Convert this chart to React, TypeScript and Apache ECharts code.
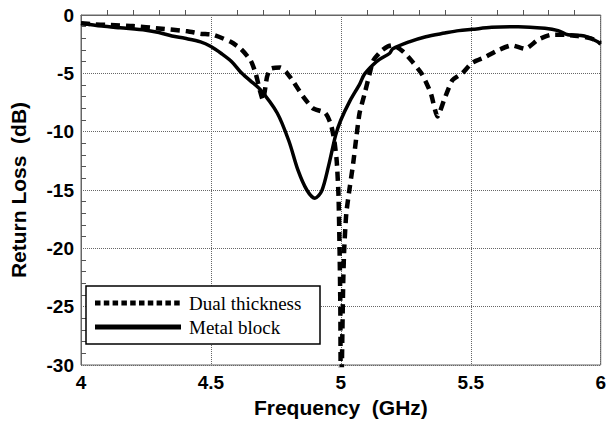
import React, { useEffect, useRef } from "react";
import * as echarts from "echarts";

const xTicks = [4, 4.5, 5, 5.5, 6];
const yTicks = [0, -5, -10, -15, -20, -25, -30];

const seriesNames = ["Dual thickness", "Metal block"];

const dualThickness: [number, number][] = [
  [4.0, -0.7], [4.05, -0.8], [4.1, -0.85], [4.2, -0.95], [4.3, -1.15], [4.41, -1.4],
  [4.46, -1.6], [4.51, -1.7], [4.576, -2.3], [4.615, -2.9], [4.653, -3.9], [4.672, -5.0],
  [4.69, -6.6], [4.70, -7.3], [4.716, -5.3], [4.73, -4.6], [4.767, -4.5], [4.79, -4.9],
  [4.817, -5.7], [4.855, -7.0], [4.893, -8.0], [4.94, -8.4], [4.962, -9.4], [4.975, -10.8],
  [4.984, -12.5], [4.991, -15.5], [4.995, -20], [4.998, -25], [4.999, -30], [5.001, -33],
  [5.003, -33], [5.004, -30], [5.006, -27], [5.009, -23], [5.013, -20], [5.021, -17],
  [5.034, -14.8], [5.047, -12.8], [5.06, -10.4], [5.072, -8.4], [5.092, -6.7], [5.111, -5.0],
  [5.125, -3.9], [5.155, -3.1], [5.18, -2.7], [5.2, -2.6], [5.238, -3.1], [5.275, -4.0],
  [5.313, -5.1], [5.346, -6.7], [5.372, -8.7], [5.397, -7.3], [5.429, -5.6], [5.467, -5.0],
  [5.505, -4.1], [5.556, -3.6], [5.607, -3.0], [5.658, -2.6], [5.709, -2.9], [5.76, -2.1],
  [5.81, -1.7], [5.861, -1.7], [5.912, -1.8], [5.962, -2.0], [6.0, -2.4],
];

const metalBlock: [number, number][] = [
  [4.0, -0.7], [4.08, -0.95], [4.15, -1.1], [4.25, -1.3], [4.3, -1.5], [4.35, -1.8],
  [4.4, -2.0], [4.46, -2.3], [4.5, -2.7], [4.54, -3.3], [4.58, -4.0], [4.615, -4.9],
  [4.65, -5.6], [4.69, -6.4], [4.755, -8.4], [4.8, -10.8], [4.835, -13.3], [4.869, -15.0],
  [4.9, -15.7], [4.926, -15.1], [4.952, -13.0], [4.98, -10.3], [5.0, -9.0], [5.034, -7.4],
  [5.073, -5.9], [5.09, -5.1], [5.122, -4.3], [5.149, -3.8], [5.187, -3.3], [5.2, -2.9],
  [5.263, -2.3], [5.327, -1.86], [5.4, -1.55], [5.454, -1.34], [5.505, -1.23], [5.58, -1.06],
  [5.683, -1.0], [5.785, -1.14], [5.836, -1.34], [5.874, -1.7], [5.937, -1.8], [5.989, -2.3],
  [6.0, -2.5],
];

export default function App() {
  const ref = useRef<HTMLDivElement>(null);

  useEffect(() => {
    if (!ref.current) return;
    const chart = echarts.init(ref.current, undefined, { renderer: "svg" });
    const tickFont = {
      fontFamily: "'Liberation Sans', Arial, sans-serif",
      fontWeight: "bold" as const,
      fontSize: 19,
      color: "#000",
    };
    chart.setOption({
      animation: false,
      backgroundColor: "#fff",
      grid: {
        left: 79,
        right: 6,
        top: 15,
        bottom: 58,
        show: true,
        borderColor: "#666",
        borderWidth: 1,
        backgroundColor: "transparent",
      },
      xAxis: {
        type: "value",
        min: xTicks[0],
        max: xTicks[xTicks.length - 1],
        interval: 0.5,
        name: "Frequency  (GHz)",
        nameLocation: "middle",
        nameGap: 30,
        nameTextStyle: { ...tickFont, fontSize: 21 },
        axisLine: { show: true, lineStyle: { color: "#666", width: 1 } },
        axisTick: { show: false },
        minorTick: { show: true, splitNumber: 5, length: -5, lineStyle: { color: "#555", width: 1 } },
        splitLine: { show: true, lineStyle: { color: "#666", type: [1, 1], width: 1 } },
        axisLabel: {
          ...tickFont,
          margin: 8,
          formatter: (v: number) => String(v),
        },
      },
      yAxis: {
        type: "value",
        min: yTicks[yTicks.length - 1],
        max: yTicks[0],
        interval: 5,
        name: "Return Loss  (dB)",
        nameLocation: "middle",
        nameGap: 52,
        nameRotate: 90,
        nameTextStyle: { ...tickFont, fontSize: 21 },
        axisLine: { show: true, lineStyle: { color: "#666", width: 1 } },
        axisTick: { show: false },
        minorTick: { show: true, splitNumber: 5, length: -5, lineStyle: { color: "#555", width: 1 } },
        splitLine: { show: true, lineStyle: { color: "#666", type: [1, 1], width: 1 } },
        axisLabel: { ...tickFont, margin: 7 },
      },
      series: [
        {
          name: seriesNames[0],
          type: "line",
          data: dualThickness,
          showSymbol: false,
          clip: true,
          smooth: 0.2,
          lineStyle: { color: "#000", width: 4.5, type: [9, 6] },
          z: 3,
        },
        {
          name: seriesNames[1],
          type: "line",
          data: metalBlock,
          showSymbol: false,
          clip: true,
          smooth: 0.3,
          lineStyle: { color: "#000", width: 3.5 },
          z: 4,
        },
      ],
      graphic: [
        {
          type: "rect",
          shape: { x: 86, y: 286, width: 234, height: 58 },
          style: { fill: "#fff", stroke: "#000", lineWidth: 1.5 },
          z: 10,
        },
        {
          type: "line",
          shape: { x1: 95, y1: 303, x2: 183, y2: 303 },
          style: { stroke: "#000", lineWidth: 5, lineDash: [5.5, 3.3] },
          z: 11,
        },
        {
          type: "line",
          shape: { x1: 95, y1: 327, x2: 181, y2: 327 },
          style: { stroke: "#000", lineWidth: 5 },
          z: 11,
        },
        {
          type: "text",
          x: 189,
          y: 303,
          style: {
            text: seriesNames[0],
            font: "19px 'Liberation Serif', 'Times New Roman', serif",
            fill: "#000",
            verticalAlign: "middle",
          },
          z: 11,
        },
        {
          type: "text",
          x: 189,
          y: 327,
          style: {
            text: seriesNames[1],
            font: "19px 'Liberation Serif', 'Times New Roman', serif",
            fill: "#000",
            verticalAlign: "middle",
          },
          z: 11,
        },
      ],
    });
    return () => chart.dispose();
  }, []);

  return (
    <div
      ref={ref}
      style={{ position: "fixed", left: 0, top: 0, width: 609, height: 423 }}
    />
  );
}
